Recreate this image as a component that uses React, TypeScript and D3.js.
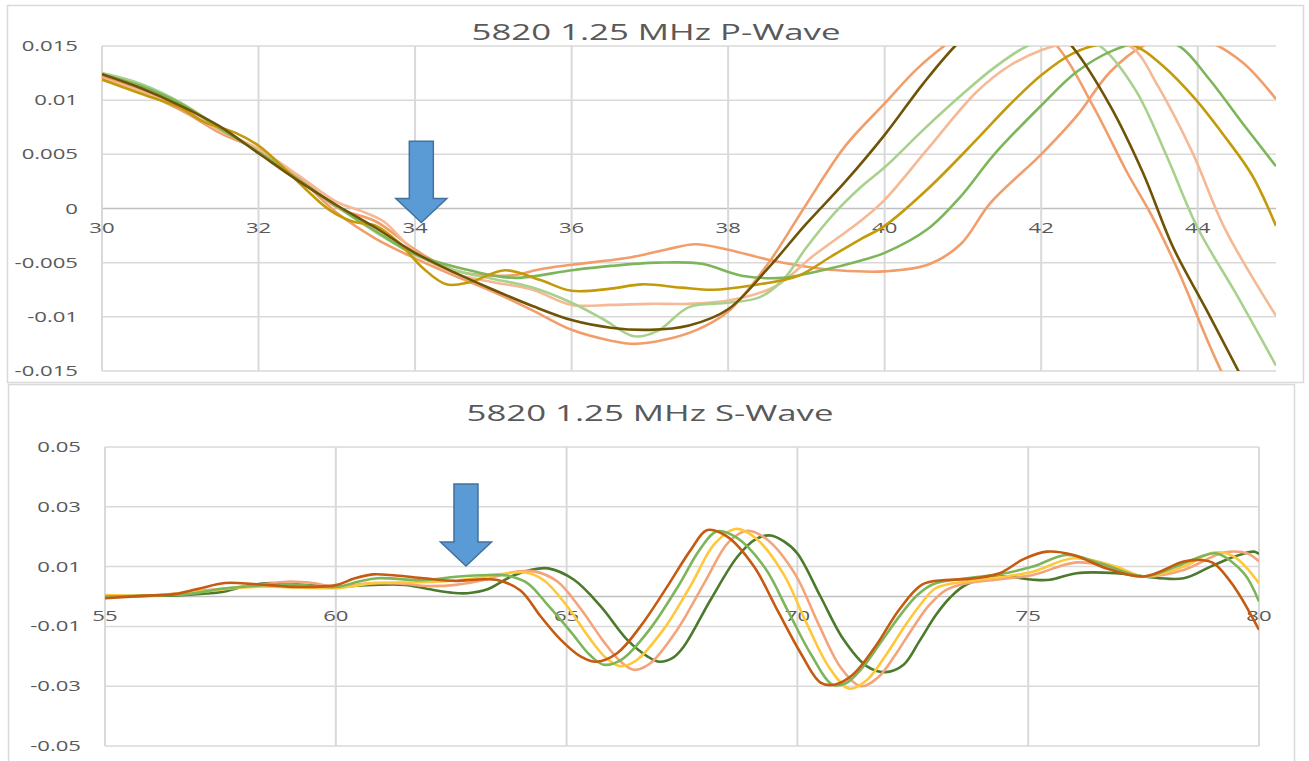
import { useEffect, useRef } from 'react'
import * as d3 from 'd3'

type Pt = [number, number]

// ---------- P-Wave (top chart) ----------
const pXTicks = [30, 32, 34, 36, 38, 40, 42, 44]
const pYTicks = [0.015, 0.01, 0.005, 0, -0.005, -0.01, -0.015]
const pYLabels = ['0.015', '0.01', '0.005', '0', '-0.005', '-0.01', '-0.015']

const pOrangeA: Pt[] = [
  [30, 0.0121], [30.5, 0.0108], [31, 0.0091], [31.5, 0.0071], [32, 0.0054], [32.5, 0.0029],
  [33, -0.0004], [33.5, -0.0028], [34, -0.0046], [34.5, -0.0062], [35, -0.0077], [35.5, -0.0094],
  [36, -0.0112], [36.5, -0.0122], [36.8, -0.0125], [37.2, -0.0121], [37.6, -0.0112], [38, -0.0095],
  [38.5, -0.0052], [39, 0.0004], [39.5, 0.0058], [40, 0.0097], [40.4, 0.0128], [40.76, 0.015],
  [41.2, 0.0172], [41.7, 0.0178], [42.2, 0.015], [42.66, 0.0095], [43.1, 0.0033], [43.4, -0.0005],
  [43.76, -0.0059], [44.3, -0.015], [45, -0.024],
]
const pOrangeB: Pt[] = [
  [30, 0.0122], [30.5, 0.0109], [31, 0.0092], [31.5, 0.0070], [32, 0.0054], [32.5, 0.0030],
  [33, 0.0001], [33.5, -0.0012], [34, -0.0038], [34.5, -0.0057], [35.2, -0.0062], [35.6, -0.0056],
  [36, -0.0052], [36.76, -0.0045], [37.2, -0.0038], [37.58, -0.0033], [38, -0.0038], [38.5, -0.0047],
  [38.94, -0.0053], [39.4, -0.0057], [40, -0.0058], [40.55, -0.0052], [40.97, -0.0033], [41.35, 0.0005],
  [42, 0.0050], [42.45, 0.0085], [42.88, 0.0126], [43.3, 0.0150], [43.7, 0.0158], [44.1, 0.0155],
  [44.57, 0.0135], [45, 0.0101],
]
const pLightOrange: Pt[] = [
  [30, 0.0120], [30.5, 0.0108], [31, 0.0093], [31.5, 0.0072], [32, 0.0055], [32.5, 0.0031],
  [33, 0.0006], [33.3, -0.0002], [33.6, -0.0012], [34, -0.0040], [34.5, -0.0060], [35, -0.0068],
  [35.5, -0.0075], [36, -0.0089], [36.5, -0.0089], [37, -0.0088], [37.5, -0.0088], [38, -0.0085],
  [38.6, -0.0072], [39.1, -0.0043], [39.7, -0.0011], [40, 0.0008], [40.55, 0.0055], [41.18, 0.0108],
  [41.6, 0.0132], [42, 0.0146], [42.4, 0.0154], [42.8, 0.0156], [43.17, 0.0148], [43.5, 0.0112],
  [43.93, 0.0052], [44.35, -0.0019], [45, -0.0099],
]
const pLightGreen: Pt[] = [
  [30, 0.0125], [30.5, 0.0115], [31, 0.0098], [31.5, 0.0075], [32, 0.0052], [32.5, 0.0027],
  [33, 0.0002], [33.5, -0.0022], [34, -0.0043], [34.5, -0.0057], [35, -0.0065], [35.5, -0.0073],
  [36, -0.0087], [36.4, -0.0102], [36.8, -0.0118], [37.1, -0.0113], [37.5, -0.0091], [38, -0.0087],
  [38.4, -0.0082], [38.7, -0.0066], [39, -0.0036], [39.35, -0.0005], [39.7, 0.0020], [40, 0.0038],
  [40.5, 0.0073], [40.97, 0.0104], [41.4, 0.0130], [41.82, 0.015], [42.3, 0.0162], [42.75, 0.015],
  [43.2, 0.0110], [43.6, 0.0049], [44, -0.0018], [44.5, -0.0080], [45, -0.0145],
]
const pGreen: Pt[] = [
  [30, 0.0124], [30.5, 0.0113], [31, 0.0097], [31.5, 0.0074], [32, 0.0052], [32.5, 0.0027],
  [33, 0.0002], [33.5, -0.0021], [34, -0.0042], [34.75, -0.0058], [35.27, -0.0064], [36, -0.0057],
  [36.5, -0.0053], [37.1, -0.0050], [37.66, -0.0051], [38.17, -0.0062], [38.7, -0.0064], [39.15, -0.0058],
  [39.7, -0.0048], [40, -0.0041], [40.55, -0.0019], [40.97, 0.0011], [41.4, 0.0050], [42, 0.0095],
  [42.45, 0.0126], [42.92, 0.0146], [43.4, 0.0155], [43.76, 0.0150], [44.14, 0.0120], [44.57, 0.0079],
  [45, 0.0039],
]
const pGold: Pt[] = [
  [30, 0.0119], [30.5, 0.0106], [31, 0.0093], [31.3, 0.0080], [31.7, 0.0070], [32, 0.0058],
  [32.3, 0.0039], [32.6, 0.0018], [32.9, -0.0001], [33.2, -0.0012], [33.5, -0.0016], [33.8, -0.0032],
  [34.1, -0.0055], [34.4, -0.0070], [34.7, -0.0068], [35.15, -0.0057], [35.6, -0.0066], [36, -0.0076],
  [36.5, -0.0074], [36.9, -0.0070], [37.4, -0.0073], [37.8, -0.0075], [38.3, -0.0071], [38.9, -0.0062],
  [39.3, -0.0045], [39.7, -0.0028], [40, -0.0016], [40.55, 0.0018], [41.18, 0.0064], [41.6, 0.0096],
  [42, 0.0123], [42.4, 0.0143], [42.8, 0.0152], [43.2, 0.0150], [43.55, 0.0132], [43.97, 0.0101],
  [44.35, 0.0066], [44.7, 0.0030], [45, -0.0016],
]
const pDarkBrown: Pt[] = [
  [30, 0.0124], [30.5, 0.0111], [31, 0.0095], [31.5, 0.0076], [32, 0.0051], [32.5, 0.0026],
  [33, 0.0003], [33.5, -0.0018], [34, -0.0041], [34.5, -0.0059], [35, -0.0075], [35.5, -0.0090],
  [36, -0.0103], [36.5, -0.0110], [37, -0.0112], [37.5, -0.0108], [38, -0.0093], [38.5, -0.0056],
  [39, -0.0014], [39.5, 0.0025], [40, 0.0068], [40.5, 0.0116], [40.9, 0.015], [41.3, 0.0176],
  [41.65, 0.0186], [42, 0.0177], [42.39, 0.015], [42.88, 0.0095], [43.3, 0.0033], [43.68, -0.0035],
  [44.1, -0.0092], [44.52, -0.015], [45, -0.0215],
]

const pSeries = [
  { name: 'P1', color: '#F19E6B', data: pOrangeA },
  { name: 'P2', color: '#F19E6B', data: pOrangeB },
  { name: 'P3', color: '#F5B995', data: pLightOrange },
  { name: 'P4', color: '#A9D18E', data: pLightGreen },
  { name: 'P5', color: '#7DB65A', data: pGreen },
  { name: 'P6', color: '#C39A0A', data: pGold },
  { name: 'P7', color: '#6F5306', data: pDarkBrown },
]

// ---------- S-Wave (bottom chart) ----------
const sXTicks = [55, 60, 65, 70, 75, 80]
const sYTicks = [0.05, 0.03, 0.01, -0.01, -0.03, -0.05]
const sYLabels = ['0.05', '0.03', '0.01', '-0.01', '-0.03', '-0.05']

const sDarkGreen: Pt[] = [
  [55, -0.0002], [55.8, 0.0002], [56.5, 0.0003], [57.2, 0.0010], [57.6, 0.0017], [58.1, 0.0037],
  [58.6, 0.0045], [59.2, 0.0040], [60, 0.0033], [60.8, 0.0039], [61.5, 0.0039], [62, 0.0025],
  [62.5, 0.0013], [62.85, 0.0011], [63.3, 0.0025], [63.8, 0.0067], [64.2, 0.0088], [64.6, 0.0094],
  [65.16, 0.0056], [65.74, -0.0033], [66.31, -0.0144], [66.75, -0.0200], [67, -0.0218], [67.3, -0.0205],
  [67.54, -0.0167], [68.12, -0.0011], [68.7, 0.0133], [69.1, 0.0192], [69.42, 0.0204], [69.7, 0.0185],
  [70, 0.0144], [70.5, 0.0000], [71, -0.0144], [71.5, -0.0233], [71.9, -0.0253], [72.3, -0.0228],
  [72.64, -0.0150], [73, -0.0062], [73.3, -0.0005], [73.66, 0.0040], [74.38, 0.0067], [75.1, 0.0056],
  [75.47, 0.0056], [76.05, 0.0078], [76.9, 0.0078], [77.5, 0.0067], [78.37, 0.0061], [78.95, 0.0100],
  [79.46, 0.0133], [79.89, 0.0150], [80, 0.0142],
]
const sDarkOrange: Pt[] = [
  [55, -0.0006], [55.8, 0.0002], [56.5, 0.0008], [57, 0.0025], [57.6, 0.0045], [58.2, 0.0042],
  [58.8, 0.0035], [59.2, 0.0032], [60, 0.0038], [60.4, 0.0060], [60.8, 0.0074], [61.3, 0.0070],
  [61.9, 0.0061], [62.6, 0.0052], [63.1, 0.0057], [63.5, 0.0055], [64, 0.0020], [64.44, -0.0067],
  [64.87, -0.0144], [65.3, -0.0200], [65.65, -0.0218], [66.1, -0.0189], [66.6, -0.0100], [67.18, 0.0033],
  [67.69, 0.0156], [68.05, 0.0222], [68.48, 0.0200], [69.06, 0.0100], [69.56, -0.0044], [70.07, -0.0189],
  [70.5, -0.0288], [70.8, -0.0295], [71.2, -0.0262], [71.7, -0.0165], [72.2, -0.0045], [72.7, 0.0040],
  [73.2, 0.0055], [73.66, 0.0058], [74.38, 0.0078], [74.9, 0.0125], [75.4, 0.0150], [75.98, 0.0139],
  [76.7, 0.0094], [77.5, 0.0067], [78.37, 0.0117], [78.73, 0.0122], [79.02, 0.0111], [79.46, 0.0033],
  [80, -0.0111],
]
const sLightGreen: Pt[] = [
  [55, 0.0000], [56, 0.0003], [56.8, 0.0008], [57.5, 0.0025], [58.2, 0.0035], [59, 0.0041],
  [60, 0.0032], [60.5, 0.0050], [60.9, 0.0061], [61.9, 0.0055], [62.6, 0.0066], [63.3, 0.0072],
  [63.7, 0.0070], [64.15, 0.0045], [64.6, -0.0030], [65.1, -0.0120], [65.5, -0.0195], [65.8, -0.0228],
  [66.2, -0.0210], [66.8, -0.0110], [67.4, 0.0030], [67.9, 0.0160], [68.26, 0.0218], [68.7, 0.0195],
  [69.3, 0.0095], [69.8, -0.0050], [70.3, -0.0195], [70.76, -0.0295], [71.05, -0.0290], [71.4, -0.0240],
  [71.8, -0.0155], [72.2, -0.0068], [72.6, 0.0005], [72.95, 0.0042], [73.66, 0.0061], [74.4, 0.0075],
  [75.1, 0.0100], [75.83, 0.0139], [76.56, 0.0111], [77.5, 0.0067], [78.2, 0.0100], [78.73, 0.0133],
  [79.09, 0.0144], [79.67, 0.0078], [80, -0.0017],
]
const sYellow: Pt[] = [
  [55, 0.0005], [56, 0.0004], [57, 0.0015], [57.8, 0.0028], [58.5, 0.0033], [59.2, 0.0030],
  [60, 0.0028], [60.8, 0.0044], [61.5, 0.0047], [62.3, 0.0050], [63, 0.0060], [63.6, 0.0075],
  [64.1, 0.0080], [64.5, 0.0055], [65, -0.0030], [65.5, -0.0140], [65.85, -0.0205], [66.16, -0.0233],
  [66.5, -0.0215], [67.1, -0.0110], [67.7, 0.0040], [68.2, 0.0175], [68.66, 0.0226], [69.1, 0.0195],
  [69.7, 0.0075], [70.2, -0.0090], [70.7, -0.0240], [71.12, -0.0308], [71.5, -0.0280], [71.9, -0.0200],
  [72.3, -0.0105], [72.65, -0.0030], [73, 0.0028], [73.66, 0.0050], [74.4, 0.0065], [75.1, 0.0083],
  [75.98, 0.0128], [76.9, 0.0100], [77.5, 0.0067], [78.37, 0.0100], [79.02, 0.0147], [79.46, 0.0133],
  [80, 0.0044],
]
const sLightOrange: Pt[] = [
  [55, 0.0000], [56, 0.0003], [57, 0.0018], [57.8, 0.0030], [58.5, 0.0042], [59, 0.0050],
  [59.5, 0.0045], [60, 0.0033], [60.8, 0.0045], [61.5, 0.0042], [62, 0.0035], [62.6, 0.0039],
  [63.2, 0.0055], [63.8, 0.0080], [64.3, 0.0084], [64.8, 0.0050], [65.3, -0.0040], [65.8, -0.0150],
  [66.15, -0.0215], [66.45, -0.0245], [66.8, -0.0225], [67.4, -0.0110], [68, 0.0050], [68.5, 0.0180],
  [68.91, 0.0220], [69.35, 0.0190], [69.95, 0.0075], [70.45, -0.0090], [70.95, -0.0240], [71.38, -0.0300],
  [71.75, -0.0270], [72.1, -0.0200], [72.5, -0.0105], [72.85, -0.0030], [73.2, 0.0020], [73.66, 0.0044],
  [74.4, 0.0058], [75.1, 0.0072], [76.05, 0.0114], [76.9, 0.0094], [77.5, 0.0067], [78.37, 0.0089],
  [79.24, 0.0147], [79.75, 0.0144], [80, 0.0117],
]

const sSeries = [
  { name: 'S1', color: '#4B7A2C', data: sDarkGreen },
  { name: 'S2', color: '#F4A47A', data: sLightOrange },
  { name: 'S3', color: '#FFC83A', data: sYellow },
  { name: 'S4', color: '#7DB65A', data: sLightGreen },
  { name: 'S5', color: '#C55A11', data: sDarkOrange },
]

// arrow annotations: tip and top of shaft, in data units
const pArrow = { x: 34.08, tipY: -0.0013, topY: 0.0062 }
const sArrow = { x: 62.82, tipY: 0.0102, topY: 0.0376 }

const W = 1309
const H = 761
const TEXT = '#595959'
const GRID = '#D9D9D9'
const FONT = '"Open Sans", "DejaVu Sans", sans-serif'
const STRETCH = 1.58

const stretchedText = (g, x, y, str, size, anchor) => {
  g.append('g')
    .attr('transform', `translate(${x},${y}) scale(${STRETCH},1)`)
    .append('text')
      .attr('text-anchor', anchor)
      .attr('dy', '0.36em')
      .attr('font-size', size)
      .attr('fill', TEXT)
      .text(str)
}

const drawChart = (svg, cfg) => {
  const { id, title, titleX, titleY, x, y, xTicks, yTicks, yLabels, series, arrow, gridX, zeroLine } = cfg
  const [x0, x1] = x.range()
  const [y0, y1] = y.range()
  const root = svg.append('g').attr('font-family', FONT)

  // horizontal gridlines
  root.append('g')
    .selectAll('line')
    .data(yTicks)
    .join('line')
      .attr('x1', x0).attr('x2', x1)
      .attr('y1', d => y(d)).attr('y2', d => y(d))
      .attr('stroke', d => d === 0 ? '#BFBFBF' : GRID)
      .attr('stroke-width', 1.5)

  // vertical gridlines
  root.append('g')
    .selectAll('line')
    .data(gridX)
    .join('line')
      .attr('x1', d => x(d)).attr('x2', d => x(d))
      .attr('y1', y1).attr('y2', y0)
      .attr('stroke', GRID)
      .attr('stroke-width', 2)

  // zero axis line
  if (zeroLine) {
    root.append('line')
      .attr('x1', x0).attr('x2', x1)
      .attr('y1', y(0)).attr('y2', y(0))
      .attr('stroke', '#BFBFBF')
      .attr('stroke-width', 1.5)
  }

  // y labels
  yTicks.forEach((t, i) => stretchedText(root, x0 - 24, y(t), yLabels[i], 14, 'end'))
  // x labels hang under the zero line
  xTicks.forEach(t => stretchedText(root, x(t), y(0) + 19, String(t), 14, 'middle'))

  // title
  stretchedText(root, titleX, titleY, title, 22, 'middle')

  // clip so that peaks off the scale are cut like in the original
  svg.append('clipPath').attr('id', id)
    .append('rect')
      .attr('x', x0).attr('y', y1)
      .attr('width', x1 - x0).attr('height', y0 - y1)

  const line = d3.line<Pt>()
    .x(d => x(d[0]))
    .y(d => y(d[1]))
    .curve(d3.curveCatmullRom.alpha(0.5))

  root.append('g')
      .attr('clip-path', `url(#${id})`)
      .attr('fill', 'none')
      .attr('stroke-width', 2.6)
      .attr('stroke-linejoin', 'round')
    .selectAll('path')
    .data(series)
    .join('path')
      .attr('stroke', d => d.color)
      .attr('d', d => line(d.data))

  // block arrow
  const tx = x(arrow.x)
  const ty = y(arrow.tipY)
  const top = y(arrow.topY)
  const pts = [
    [tx - 12, top], [tx + 12, top], [tx + 12, ty - 24], [tx + 25.5, ty - 24],
    [tx, ty], [tx - 25.5, ty - 24], [tx - 12, ty - 24],
  ]
  root.append('polygon')
    .attr('points', pts.map(p => p.join(',')).join(' '))
    .attr('fill', '#5B9BD5')
    .attr('stroke', '#41719C')
    .attr('stroke-width', 1.5)
}

const App = () => {
  const svgRef = useRef(null)

  useEffect(() => {
    const svg = d3.select(svgRef.current)
    svg.selectAll('*').remove()

    svg.append('rect').attr('width', W).attr('height', H).attr('fill', '#fff')

    // chart area frames
    svg.append('rect')
      .attr('x', 7.5).attr('y', 5.5).attr('width', 1296).attr('height', 377)
      .attr('fill', '#fff').attr('stroke', GRID).attr('stroke-width', 1.5)
    svg.append('rect')
      .attr('x', 8.5).attr('y', 384.5).attr('width', 1286).attr('height', 400)
      .attr('fill', '#fff').attr('stroke', GRID).attr('stroke-width', 1.5)

    const xP = d3.scaleLinear().domain([30, 45]).range([102, 1276])
    const yP = d3.scaleLinear().domain([-0.015, 0.015]).range([371, 46])
    drawChart(svg, {
      id: 'clipP',
      title: '5820 1.25 MHz P-Wave',
      titleX: 656, titleY: 32,
      x: xP, y: yP,
      xTicks: pXTicks, gridX: pXTicks,
      yTicks: pYTicks, yLabels: pYLabels,
      series: pSeries,
      arrow: pArrow,
      zeroLine: false,
    })

    const xS = d3.scaleLinear().domain([55, 80]).range([105, 1259])
    const yS = d3.scaleLinear().domain([-0.05, 0.05]).range([746, 447])
    drawChart(svg, {
      id: 'clipS',
      title: '5820 1.25 MHz S-Wave',
      titleX: 650, titleY: 413,
      x: xS, y: yS,
      xTicks: sXTicks, gridX: sXTicks,
      yTicks: sYTicks, yLabels: sYLabels,
      series: sSeries,
      arrow: sArrow,
      zeroLine: true,
    })
  }, [])

  return (
    <svg
      ref={svgRef}
      width={W}
      height={H}
      style={{ position: 'absolute', left: 0, top: 0, display: 'block' }}
    />
  )
}

export default App
